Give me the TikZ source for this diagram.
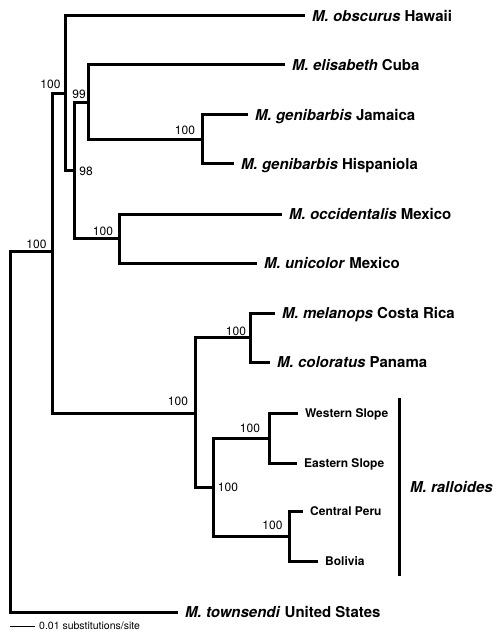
\documentclass[tikz,border=0pt]{standalone}
\usepackage{fontspec}
\setmainfont{TeX Gyre Heros}
\begin{document}
\begin{tikzpicture}[x=1bp,y=-1bp,
  edge/.style={line width=3bp},
  tip/.style={anchor=west, inner xsep=7bp, inner ysep=0pt, text height=10.8bp, text depth=0pt, font=\fontsize{15bp}{18bp}\selectfont\bfseries},
  subtip/.style={anchor=west, inner xsep=7bp, inner ysep=0pt, text height=8.6bp, text depth=0pt, font=\fontsize{12bp}{14bp}\selectfont\bfseries},
  boot/.style={inner sep=0pt, text height=8.4bp, text depth=0pt, font=\fontsize{12bp}{14bp}\selectfont},
]
\useasboundingbox (0,0) rectangle (497,633);
% internal nodes
\coordinate (R) at (10,431.5);
\coordinate (A) at (52,251);
\coordinate (B) at (65,94);
\coordinate (C) at (74,171);
\coordinate (D) at (88,103);
\coordinate (E) at (202,139.5);
\coordinate (G) at (119,238.5);
\coordinate (K) at (195,413);
\coordinate (L) at (250,337.5);
\coordinate (M) at (213,487);
\coordinate (N) at (269,438);
\coordinate (P) at (289,536);
% tips
\node[tip] (obs) at (305,16) {\textit{M. obscurus} Hawaii};
\node[tip] (eli) at (285,65) {\textit{M. elisabeth} Cuba};
\node[tip] (jam) at (248,115) {\textit{M. genibarbis} Jamaica};
\node[tip] (his) at (234,164) {\textit{M. genibarbis} Hispaniola};
\node[tip] (occ) at (282,214) {\textit{M. occidentalis} Mexico};
\node[tip] (uni) at (257,263) {\textit{M. unicolor} Mexico};
\node[tip] (mel) at (275,313) {\textit{M. melanops} Costa Rica};
\node[tip] (col) at (270,362) {\textit{M. coloratus} Panama};
\node[subtip] (wes) at (298,413) {Western Slope};
\node[subtip] (eas) at (297,463) {Eastern Slope};
\node[subtip] (cen) at (303,511) {Central Peru};
\node[subtip] (bol) at (318,561) {Bolivia};
\node[tip] (tow) at (178,612) {\textit{M. townsendi} United States};
% edges
\draw[edge] (R) |- (A);
\draw[edge] (R) |- (tow.west);
\draw[edge] (A) |- (B);
\draw[edge] (A) |- (K);
\draw[edge] (B) |- (obs.west);
\draw[edge] (B) |- (C);
\draw[edge] (C) |- (D);
\draw[edge] (C) |- (G);
\draw[edge] (D) |- (eli.west);
\draw[edge] (D) |- (E);
\draw[edge] (E) |- (jam.west);
\draw[edge] (E) |- (his.west);
\draw[edge] (G) |- (occ.west);
\draw[edge] (G) |- (uni.west);
\draw[edge] (K) |- (L);
\draw[edge] (K) |- (M);
\draw[edge] (L) |- (mel.west);
\draw[edge] (L) |- (col.west);
\draw[edge] (M) |- (N);
\draw[edge] (M) |- (P);
\draw[edge] (N) |- (wes.west);
\draw[edge] (N) |- (eas.west);
\draw[edge] (P) |- (cen.west);
\draw[edge] (P) |- (bol.west);
% bootstrap values
\node[boot] (bB) at (50.5,84) {100};
\node[boot] (bD) at (79,94) {99};
\node[boot] (bC) at (86,171.5) {98};
\node[boot] (bE) at (185,130) {100};
\node[boot] (bG) at (103,231) {100};
\node[boot] (bA) at (36.5,244) {100};
\node[boot] (bK) at (178,401) {100};
\node[boot] (bL) at (236,331) {100};
\node[boot] (bM) at (228,487.5) {100};
\node[boot] (bN) at (250,428) {100};
\node[boot] (bP) at (272.5,525) {100};
% ralloides bar
\coordinate (rt) at (399,398);
\coordinate (rb) at (399,576);
\draw[line width=3bp] (rt) -- (rb);
\node[tip] (ral) at (403,487) {\textit{M. ralloides}};
% scale bar
\coordinate (s0) at (10,626);
\node[anchor=west, inner xsep=4bp, inner ysep=0pt, font=\fontsize{10.5bp}{12bp}\selectfont] (sc) at (35,626) {0.01 substitutions/site};
\draw[line width=0.9bp] (s0) -- (sc.west);
\end{tikzpicture}
\end{document}
